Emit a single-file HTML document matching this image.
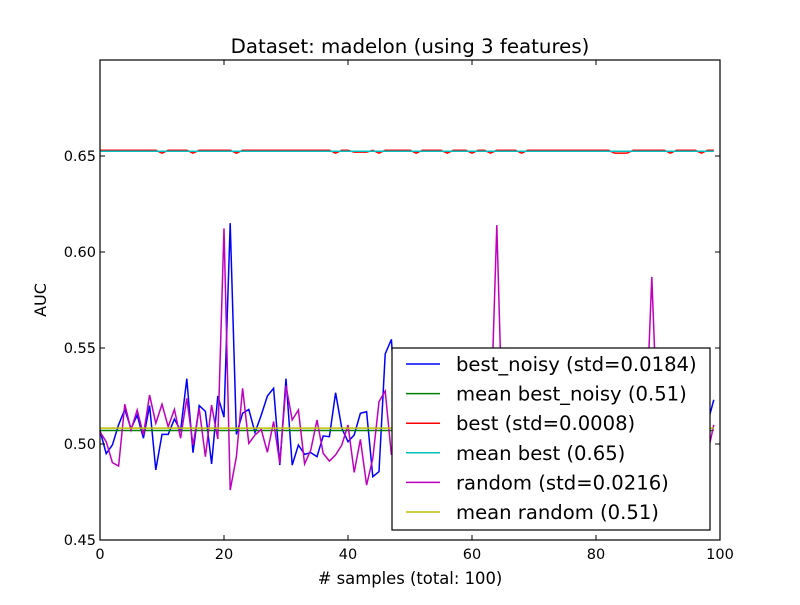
<!DOCTYPE html>
<html><head><meta charset="utf-8"><style>
body{margin:0;background:#fff;}
svg{font-family:"DejaVu Sans","Liberation Sans",sans-serif;}
</style></head><body>
<svg id="chart" width="800" height="600" xmlns="http://www.w3.org/2000/svg">
<rect width="800" height="600" fill="#ffffff"/>
<text x="410" y="53" font-size="19.8" text-anchor="middle">Dataset: madelon (using 3 features)</text>
<g id="plot"></g>
<text x="410" y="584" font-size="16.4" text-anchor="middle"># samples (total: 100)</text>
<text transform="translate(46,300) rotate(-90)" font-size="16" text-anchor="middle">AUC</text>
</svg>
<script>
const xTicks=[0,20,40,60,80,100];
const yTicks=[0.45,0.50,0.55,0.60,0.65];
const yTickLabels=["0.45","0.50","0.55","0.60","0.65"];
const bestNoisy=[.507,.495,.4995,.510,.518,.508,.515,.503,.520,.4865,.505,.505,.513,.507,.534,.4955,.520,.517,.4896,.525,.514,.615,.505,.516,.518,.506,.515,.525,.529,.489,.534,.489,.4995,.4946,.4955,.4934,.5042,.5038,.5267,.5082,.5012,.5047,.516,.5168,.483,.4856,.5469,.5545,.505,.51,.498,.512,.503,.507,.50,.515,.505,.495,.51,.506,.50,.512,.503,.508,.505,.50,.513,.507,.498,.51,.504,.509,.50,.512,.505,.499,.51,.506,.503,.511,.50,.507,.513,.501,.508,.505,.51,.497,.509,.506,.503,.512,.50,.507,.505,.51,.498,.506,.511,.523];
const best=[.653,.653,.653,.653,.653,.653,.653,.653,.653,.653,.6515,.653,.653,.653,.653,.6515,.653,.653,.653,.653,.653,.653,.6515,.653,.653,.653,.653,.653,.653,.653,.653,.653,.653,.653,.653,.653,.653,.653,.6515,.653,.653,.652,.652,.652,.653,.6515,.653,.653,.653,.653,.653,.6515,.653,.653,.653,.653,.6515,.653,.653,.653,.6515,.653,.653,.6515,.653,.653,.653,.653,.6515,.653,.653,.653,.653,.653,.653,.653,.653,.653,.653,.653,.653,.653,.653,.6515,.6515,.6515,.653,.653,.653,.653,.653,.653,.6515,.653,.653,.653,.653,.6515,.653,.653];
const randomAuc=[.5064,.5012,.4903,.4885,.5207,.5073,.5177,.5047,.5255,.5108,.5207,.509,.518,.503,.5238,.4995,.5185,.4934,.5203,.5026,.6123,.476,.4934,.529,.5003,.5047,.5076,.4957,.5117,.4899,.5304,.5125,.5177,.4896,.4969,.5125,.4951,.4911,.4943,.4995,.5099,.4852,.5024,.4786,.4925,.522,.5276,.4943,.51,.50,.507,.495,.512,.503,.509,.498,.511,.504,.50,.513,.506,.499,.508,.51,.614,.50,.507,.503,.511,.498,.509,.505,.50,.512,.504,.507,.499,.51,.506,.503,.509,.50,.512,.505,.498,.508,.503,.51,.505,.587,.502,.509,.504,.50,.511,.506,.499,.508,.495,.51];
const meanBestNoisy=0.507, meanBest=0.6525, meanRandom=0.5083;
const X0=100,X1=720,Y0=540,Y1=60,xMin=0,xMax=100,yMin=0.45,yMax=0.70;
const xs=v=>X0+(v-xMin)/(xMax-xMin)*(X1-X0);
const ys=v=>Y0-(v-yMin)/(yMax-yMin)*(Y0-Y1);
const NS="http://www.w3.org/2000/svg";
const plot=document.getElementById('plot');
function mk(tag,attrs,parent){const e=document.createElementNS(NS,tag);for(const k in attrs)e.setAttribute(k,attrs[k]);(parent||plot).appendChild(e);return e;}
function series(arr,color,name){
  const p=mk('polyline',{points:arr.map((v,i)=>xs(i)+','+ys(v)).join(' '),fill:'none',stroke:color,'stroke-width':1.5});
  
  
}
function hline(v,color,name){
  const l=mk('line',{x1:xs(0),x2:xs(99),y1:ys(v),y2:ys(v),stroke:color,'stroke-width':1.5});
  
  
}
series(bestNoisy,'#0000ff','best-noisy-line');
hline(meanBestNoisy,'#008000','mean-best-noisy-line');
series(best,'#ff0000','best-line');
hline(meanBest,'#00bfbf','mean-best-line');
series(randomAuc,'#bf00bf','random-line');
hline(meanRandom,'#bfbf00','mean-random-line');
const fr=mk('rect',{x:X0,y:Y1,width:X1-X0,height:Y0-Y1,fill:'none',stroke:'#000','stroke-width':1.2});


xTicks.forEach(t=>{
  const x=xs(t);
  mk('line',{x1:x,x2:x,y1:Y0,y2:Y0-5,stroke:'#000'});
  mk('line',{x1:x,x2:x,y1:Y1,y2:Y1+5,stroke:'#000'});
  const tx=mk('text',{x:x,y:Y0+19,'font-size':14.5,'text-anchor':'middle'});
  tx.textContent=t;
  
  
});
yTicks.forEach((t,i)=>{
  const y=ys(t);
  mk('line',{x1:X0,x2:X0+5,y1:y,y2:y,stroke:'#000'});
  mk('line',{x1:X1,x2:X1-5,y1:y,y2:y,stroke:'#000'});
  const tx=mk('text',{x:X0-4,y:y+5,'font-size':14.5,'text-anchor':'end'});
  tx.textContent=yTickLabels[i];
  
  
});
const legendLabels=["best_noisy (std=0.0184)","mean best_noisy (0.51)","best (std=0.0008)","mean best (0.65)","random (std=0.0216)","mean random (0.51)"];
const legendColors=['#0000ff','#008000','#ff0000','#00bfbf','#bf00bf','#bfbf00'];
const lg=mk('g',{});


mk('rect',{x:392,y:348,width:318,height:182,fill:'#fff',stroke:'#000','stroke-width':1.2},lg);
legendLabels.forEach((s,i)=>{
  const y=364+i*29.6;
  const g=mk('g',{},lg);
  
  
  mk('line',{x1:406,x2:440,y1:y,y2:y,stroke:legendColors[i],'stroke-width':1.5},g);
  const t=mk('text',{x:456,y:y+7,'font-size':19.6},g);
  t.textContent=s;
});
</script>
</body></html>
